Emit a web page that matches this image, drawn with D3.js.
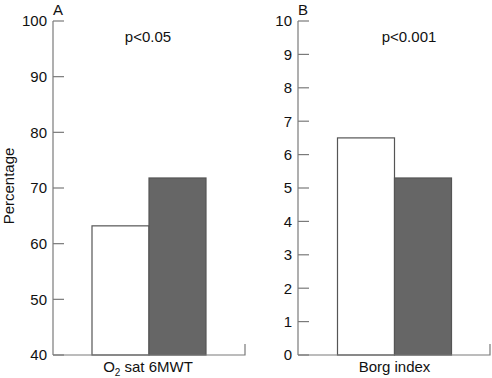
<!DOCTYPE html>
<html>
<head>
<meta charset="utf-8">
<script src="https://cdn.jsdelivr.net/npm/d3@7"></script>
<style>
  body { margin: 0; background: #fff; }
  text { font-family: "Liberation Sans", Arial, sans-serif; fill: #111; }
</style>
</head>
<body>
<svg id="chart" width="492" height="378"></svg>
<script>
// panel A: O2 saturation during 6MWT (percentage)
const satValues = [63.2, 71.8];
const satTicks = [40, 50, 60, 70, 80, 90, 100];
// panel B: Borg index
const borgValues = [6.5, 5.3];
const borgTicks = [0, 1, 2, 3, 4, 5, 6, 7, 8, 9, 10];
const groups = ["before", "after"];
const fills = ["#ffffff", "#666666"];

const svg = d3.select("#chart");
const plotTop = 21, plotBottom = 355;
const axisColor = "#7a7a7a";
const fs = "15px";

function panel(opts) {
  const y = d3.scaleLinear().domain(opts.domain).range([plotBottom, plotTop]);
  const x = d3.scaleBand().domain(groups).range([opts.barLeft, opts.barRight]).padding(0);

  const g = svg.append("g");

  // y axis line + inward ticks
  g.append("line")
    .attr("x1", opts.axisX).attr("x2", opts.axisX)
    .attr("y1", plotTop).attr("y2", plotBottom)
    .attr("stroke", axisColor).attr("stroke-width", 1.2);

  g.selectAll(".tick")
    .data(opts.ticks)
    .enter().append("line")
    .attr("x1", opts.axisX).attr("x2", opts.axisX + 11)
    .attr("y1", d => y(d)).attr("y2", d => y(d))
    .attr("stroke", axisColor).attr("stroke-width", 1.2);

  g.selectAll(".tlabel")
    .data(opts.ticks)
    .enter().append("text")
    .attr("x", opts.axisX - 6)
    .attr("y", d => y(d))
    .attr("dy", "0.36em")
    .attr("text-anchor", "end")
    .style("font-size", fs)
    .text(d => d);

  // bars
  g.selectAll("rect")
    .data(opts.values)
    .enter().append("rect")
    .attr("x", (d, i) => x(groups[i]))
    .attr("y", d => y(d))
    .attr("width", x.bandwidth())
    .attr("height", d => plotBottom - y(d))
    .attr("fill", (d, i) => fills[i])
    .attr("stroke", "#555")
    .attr("stroke-width", 1.2);

  // x axis with small end tick
  g.append("path")
    .attr("d", `M${opts.axisX},${plotBottom}H${opts.axisRight}V${plotBottom - 11}`)
    .attr("fill", "none")
    .attr("stroke", axisColor).attr("stroke-width", 1.2);

  g.append("text")
    .attr("x", opts.axisX + 5).attr("y", 15)
    .attr("text-anchor", "middle")
    .style("font-size", fs)
    .text(opts.letter);

  g.append("text")
    .attr("x", opts.pX).attr("y", 42)
    .attr("text-anchor", "middle")
    .style("font-size", fs)
    .text(opts.p);

  return g;
}

panel({ domain: [40, 100], ticks: satTicks, values: satValues,
  axisX: 53, axisRight: 245, barLeft: 92, barRight: 206,
  letter: "A", p: "p<0.05", pX: 148 });

panel({ domain: [0, 10], ticks: borgTicks, values: borgValues,
  axisX: 298, axisRight: 490, barLeft: 337.5, barRight: 451.5,
  letter: "B", p: "p<0.001", pX: 409 });

// x labels
const la = svg.append("text")
  .attr("x", 148).attr("y", 372)
  .attr("text-anchor", "middle")
  .style("font-size", fs);
la.append("tspan").text("O");
la.append("tspan").attr("dy", 4).style("font-size", "10px").text("2");
la.append("tspan").attr("dy", -4).text(" sat 6MWT");

svg.append("text")
  .attr("x", 394.5).attr("y", 372)
  .attr("text-anchor", "middle")
  .style("font-size", fs)
  .text("Borg index");

svg.append("text")
  .attr("transform", "translate(13.5,186) rotate(-90)")
  .attr("text-anchor", "middle")
  .style("font-size", fs)
  .text("Percentage");
</script>
</body>
</html>
